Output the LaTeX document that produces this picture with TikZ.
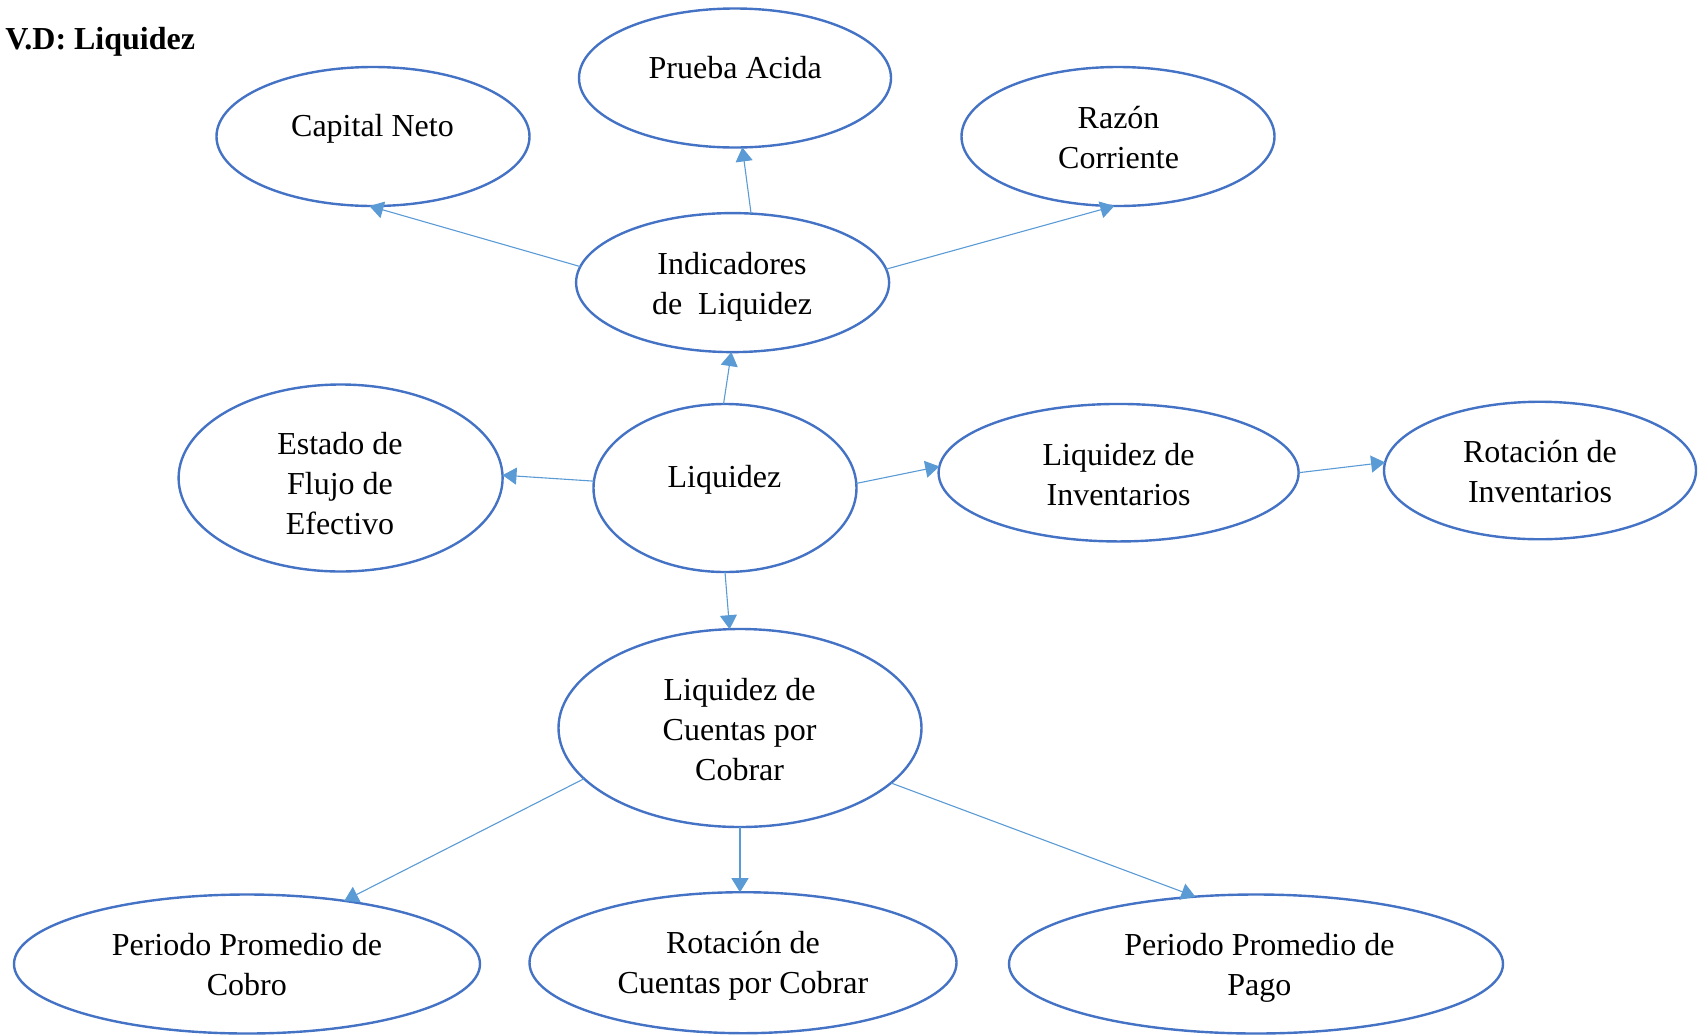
\documentclass[tikz,border=0pt]{standalone}
\usepackage{fontspec}
\setmainfont{Liberation Serif}
\usetikzlibrary{shapes.geometric,arrows.meta}
\definecolor{ellblue}{HTML}{4472C4}
\definecolor{arrblue}{HTML}{5B9BD5}
\begin{document}
\begin{tikzpicture}[x=0.5pt,y=-0.5pt,
  ell/.style={ellipse,draw=ellblue,line width=1.2pt,inner sep=0pt,outer sep=0pt},
  lbl/.style={font=\fontsize{16}{20}\selectfont,align=center,inner sep=0pt},
  conn/.style={draw=arrblue,line width=0.55pt,-{Triangle[length=7pt,width=8.5pt]}}]
\useasboundingbox (0,0) rectangle (1698,1034);
% title
\node[font=\fontsize{16}{20}\selectfont\bfseries,anchor=west,inner sep=0pt] (title) at (5,41) {\strut V.D: Liquidez};
% ellipses
\node[ell,minimum width=156pt,minimum height=69.5pt] (prueba) at (735,78) {};
\node[ell,minimum width=156.5pt,minimum height=69.5pt] (capital) at (373,136.5) {};
\node[ell,minimum width=156.5pt,minimum height=69.5pt] (razon) at (1118,136.5) {};
\node[ell,minimum width=156.5pt,minimum height=69.5pt] (ind) at (732.6,282.6) {};
\node[ell,minimum width=162pt,minimum height=93.5pt] (estado) at (340.6,478) {};
\node[ell,minimum width=131.5pt,minimum height=84pt] (liq) at (725,488) {};
\node[ell,minimum width=180pt,minimum height=68.75pt] (liqinv) at (1118.6,472.7) {};
\node[ell,minimum width=156pt,minimum height=68.75pt] (rotinv) at (1540,470.5) {};
\node[ell,minimum width=181.5pt,minimum height=99pt] (cuentas) at (740,728) {};
\node[ell,minimum width=233pt,minimum height=69.5pt] (ppc) at (247,964) {};
\node[ell,minimum width=213.5pt,minimum height=70.5pt] (rcc) at (743,962.7) {};
\node[ell,minimum width=247pt,minimum height=69.5pt] (ppp) at (1256,964) {};
% texts
\node[lbl] (pruebaT) at (735.3,70) {\strut Prueba Acida};
\node[lbl] (capitalT) at (372.5,128.6) {\strut Capital Neto};
\node[lbl] (razonT) at (1118.6,140) {\strut Razón\\\strut Corriente};
\node[lbl] (indT) at (732,286.2) {\strut Indicadores\\\strut de\ \ Liquidez};
\node[lbl] (estadoT) at (340,486) {\strut Estado de\\\strut Flujo de\\\strut Efectivo};
\node[lbl] (liqT) at (724.5,479.5) {\strut Liquidez};
\node[lbl] (liqinvT) at (1118.6,477.3) {\strut Liquidez de\\\strut Inventarios};
\node[lbl] (rotinvT) at (1540,474.6) {\strut Rotación de\\\strut Inventarios};
\node[lbl] (cuentasT) at (739.6,732.9) {\strut Liquidez de\\\strut Cuentas por\\\strut Cobrar};
\node[lbl] (ppcT) at (246.9,967.9) {\strut Periodo Promedio de\\\strut Cobro};
\node[lbl] (rccT) at (742.9,965.7) {\strut Rotación de\\\strut Cuentas por Cobrar};
\node[lbl] (pppT) at (1259.4,967.9) {\strut Periodo Promedio de\\\strut Pago};
% connectors
\draw[conn] (ind.174.5) -- (capital.267.8);
\draw[conn] (ind.75.5) -- (prueba.276.4);
\draw[conn] (ind.5.1) -- (razon.267.8);
\draw[conn] (liq.91.1) -- (ind.269.5);
\draw[conn] (liq.177.3) -- (estado.1.7);
\draw[conn] (liq.2.2) -- (liqinv.178.4);
\draw[conn] (liqinv.0.5) -- (rotinv.177);
\draw[conn] (liq.270) -- (cuentas.96.5);
\draw[conn] (cuentas.198.3) -- (ppc.33.8);
\draw[conn] (cuentas.270) -- (cuentas.270 |- rcc.north);
\draw[conn] (cuentas.340.4) -- (ppp.132.5);
\end{tikzpicture}
\end{document}
